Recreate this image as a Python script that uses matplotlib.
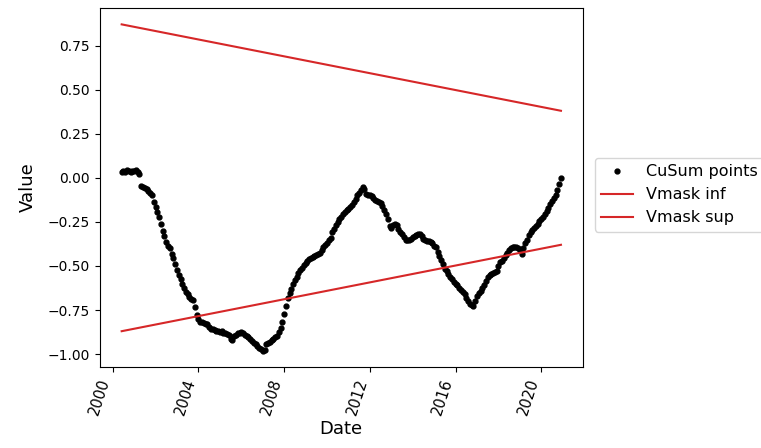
"""CuSum chart of the monthly series with its V-mask boundaries."""

import matplotlib

matplotlib.use("Agg")

import matplotlib.dates as mdates
import matplotlib.pyplot as plt
import numpy as np
import pandas as pd


START_MONTH = "2000-06-01"

# cumulative sum, one value per month (Jun 2000 .. Dec 2020)
CUSUM = np.array(
    [
        # 2000 (Jun-Dec)
        0.035, 0.040, 0.035, 0.045, 0.040, 0.035, 0.040,
        # 2001
        0.040, 0.045, 0.035, 0.020, -0.045, -0.055, -0.060, -0.065, -0.075, -0.085, -0.100, -0.135,
        # 2002
        -0.165, -0.195, -0.225, -0.260, -0.300, -0.330, -0.365, -0.385, -0.400, -0.430, -0.455, -0.490,
        # 2003
        -0.525, -0.550, -0.575, -0.600, -0.625, -0.645, -0.660, -0.675, -0.685, -0.695, -0.735, -0.780,
        # 2004
        -0.800, -0.815, -0.820, -0.825, -0.830, -0.830, -0.845, -0.855, -0.860, -0.865, -0.870, -0.870,
        # 2005
        -0.875, -0.870, -0.880, -0.880, -0.885, -0.890, -0.915, -0.920, -0.900, -0.890, -0.883, -0.880,
        # 2006
        -0.875, -0.880, -0.890, -0.900, -0.905, -0.915, -0.925, -0.935, -0.945, -0.955, -0.965, -0.970,
        # 2007
        -0.980, -0.975, -0.945, -0.935, -0.930, -0.920, -0.915, -0.905, -0.895, -0.875, -0.850, -0.815,
        # 2008
        -0.770, -0.725, -0.680, -0.655, -0.630, -0.600, -0.580, -0.560, -0.540, -0.525, -0.510, -0.495,
        # 2009
        -0.485, -0.470, -0.460, -0.455, -0.450, -0.445, -0.440, -0.430, -0.425, -0.410, -0.395, -0.380,
        # 2010
        -0.370, -0.355, -0.340, -0.310, -0.290, -0.270, -0.250, -0.235, -0.220, -0.205, -0.195, -0.185,
        # 2011
        -0.175, -0.165, -0.155, -0.140, -0.120, -0.100, -0.085, -0.070, -0.055, -0.065, -0.090, -0.100,
        # 2012
        -0.100, -0.105, -0.115, -0.125, -0.130, -0.135, -0.145, -0.160, -0.180, -0.205, -0.235, -0.275,
        # 2013
        -0.285, -0.265, -0.260, -0.270, -0.290, -0.305, -0.320, -0.335, -0.350, -0.355, -0.350, -0.345,
        # 2014
        -0.335, -0.330, -0.325, -0.320, -0.320, -0.330, -0.345, -0.355, -0.360, -0.360, -0.365, -0.370,
        # 2015
        -0.385, -0.395, -0.420, -0.445, -0.465, -0.490, -0.515, -0.530, -0.545, -0.560, -0.575, -0.590,
        # 2016
        -0.600, -0.610, -0.625, -0.635, -0.645, -0.660, -0.680, -0.700, -0.715, -0.720, -0.725, -0.700,
        # 2017
        -0.670, -0.655, -0.640, -0.625, -0.610, -0.585, -0.560, -0.550, -0.545, -0.540, -0.535, -0.530,
        # 2018
        -0.500, -0.480, -0.470, -0.455, -0.440, -0.425, -0.410, -0.400, -0.395, -0.390, -0.395, -0.400,
        # 2019
        -0.410, -0.430, -0.400, -0.370, -0.350, -0.325, -0.305, -0.295, -0.285, -0.275, -0.260, -0.245,
        # 2020
        -0.235, -0.220, -0.205, -0.190, -0.170, -0.150, -0.130, -0.115, -0.095, -0.070, -0.035, 0.000,
    ]
)

# V-mask arms at the first and last month
VMASK_INF = [-0.87, -0.38]
VMASK_SUP = [0.87, 0.38]

RED = "#d62728"


def main() -> None:
    dates = pd.date_range(START_MONTH, periods=len(CUSUM), freq="MS")
    ends = [dates[0], dates[-1]]

    fig = plt.figure(figsize=(7.61, 4.48), dpi=100)
    ax = fig.add_axes([0.131, 0.181, 0.635, 0.801])

    ax.plot(dates, CUSUM, "k.", markersize=7, label="CuSum points")
    ax.plot(ends, VMASK_INF, color=RED, linewidth=1.5, label="Vmask inf")
    ax.plot(ends, VMASK_SUP, color=RED, linewidth=1.5, label="Vmask sup")

    ax.xaxis.set_major_locator(mdates.YearLocator(4))
    ax.xaxis.set_major_formatter(mdates.DateFormatter("%Y"))
    ax.tick_params(axis="both", labelsize=10)
    ax.tick_params(axis="x", labelsize=10.5)
    plt.setp(ax.get_xticklabels(), rotation=72, ha="right")

    ax.set_xlabel("Date", fontsize=13, labelpad=2)
    ax.set_ylabel("Value", fontsize=13, labelpad=8)

    ax.legend(loc="center left", bbox_to_anchor=(1.008, 0.48), fontsize=11.5)

    fig.savefig("out.png", dpi=100)
    plt.close(fig)


if __name__ == "__main__":
    main()
